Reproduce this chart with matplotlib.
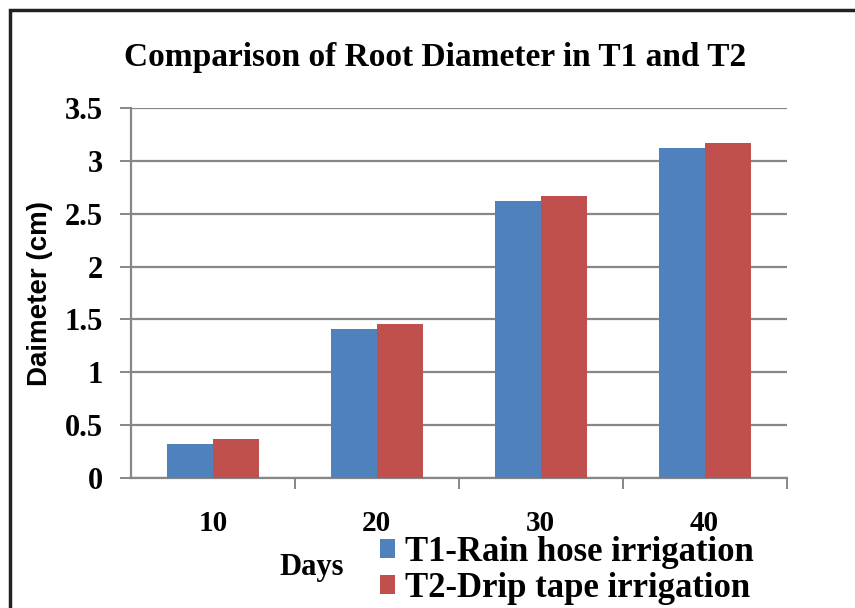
import matplotlib
matplotlib.use("Agg")
import matplotlib.pyplot as plt
import numpy as np
from matplotlib.patches import Rectangle

# --- Dados ---
days = ["10", "20", "30", "40"]
t1_rain_hose = [0.32, 1.41, 2.62, 3.12]
t2_drip_tape = [0.37, 1.46, 2.67, 3.17]
series_names = ["T1-Rain hose irrigation", "T2-Drip tape irrigation"]
y_ticks = [0, 0.5, 1, 1.5, 2, 2.5, 3, 3.5]
y_tick_labels = ["0", "0.5", "1", "1.5", "2", "2.5", "3", "3.5"]

BLUE = "#4F81BD"
RED = "#C0504D"
GRID = "#878787"
SERIF = ["Liberation Serif", "DejaVu Serif"]

fig = plt.figure(figsize=(8.55, 6.08), dpi=100)
ax = fig.add_axes([0.153, 0.214, 0.767, 0.608])

x = np.arange(len(days))
w = 0.28
ax.bar(x - w / 2, t1_rain_hose, w, color=BLUE, label=series_names[0], zorder=3)
ax.bar(x + w / 2, t2_drip_tape, w, color=RED, label=series_names[1], zorder=3)

ax.set_xlim(-0.5, len(days) - 0.5)
ax.set_ylim(0, 3.5)

# eixos e grade
ax.set_yticks(y_ticks)
ax.set_yticklabels(y_tick_labels, fontfamily=SERIF, fontweight="bold", fontsize=22)
ax.yaxis.grid(True, color=GRID, linewidth=1.6, zorder=0)
ax.tick_params(axis="y", length=8, width=1.4, color=GRID, pad=12)

ax.set_xticks(x)
ax.set_xticklabels(days, fontfamily=SERIF, fontweight="bold", fontsize=21)
ax.tick_params(axis="x", length=0, pad=23)
ax.set_xticks(list(np.arange(len(days)) + 0.5), minor=True)
ax.tick_params(axis="x", which="minor", length=8, width=1.4, color=GRID)

for s in ["top", "right"]:
    ax.spines[s].set_visible(False)
for s in ["left", "bottom"]:
    ax.spines[s].set_color(GRID)
    ax.spines[s].set_linewidth(1.6)

ax.set_ylabel("Daimeter (cm)", fontfamily=["Liberation Sans", "DejaVu Sans"],
              fontweight="bold", fontsize=20)
ax.yaxis.set_label_coords(-0.118, 0.5)

fig.text(0.509, 0.906, "Comparison of Root Diameter in T1 and T2", ha="center", va="center",
         fontfamily=SERIF, fontweight="bold", fontsize=24)

fig.text(0.365, 0.067, "Days", ha="center", va="center",
         fontfamily=SERIF, fontweight="bold", fontsize=22)

leg = fig.legend(loc="center left", bbox_to_anchor=(0.445, 0.062), frameon=False,
                 prop={"family": SERIF, "weight": "bold", "size": 25},
                 handlelength=0.42, handleheight=0.45, handletextpad=0.3,
                 labelspacing=0.1, borderaxespad=0, borderpad=0)

# moldura do gráfico
fig.patches.append(Rectangle((0.012, -0.05), 1.2, 1.034, transform=fig.transFigure,
                             fill=False, edgecolor="#222222", linewidth=2.5))

fig.savefig("out.png", dpi=100)
